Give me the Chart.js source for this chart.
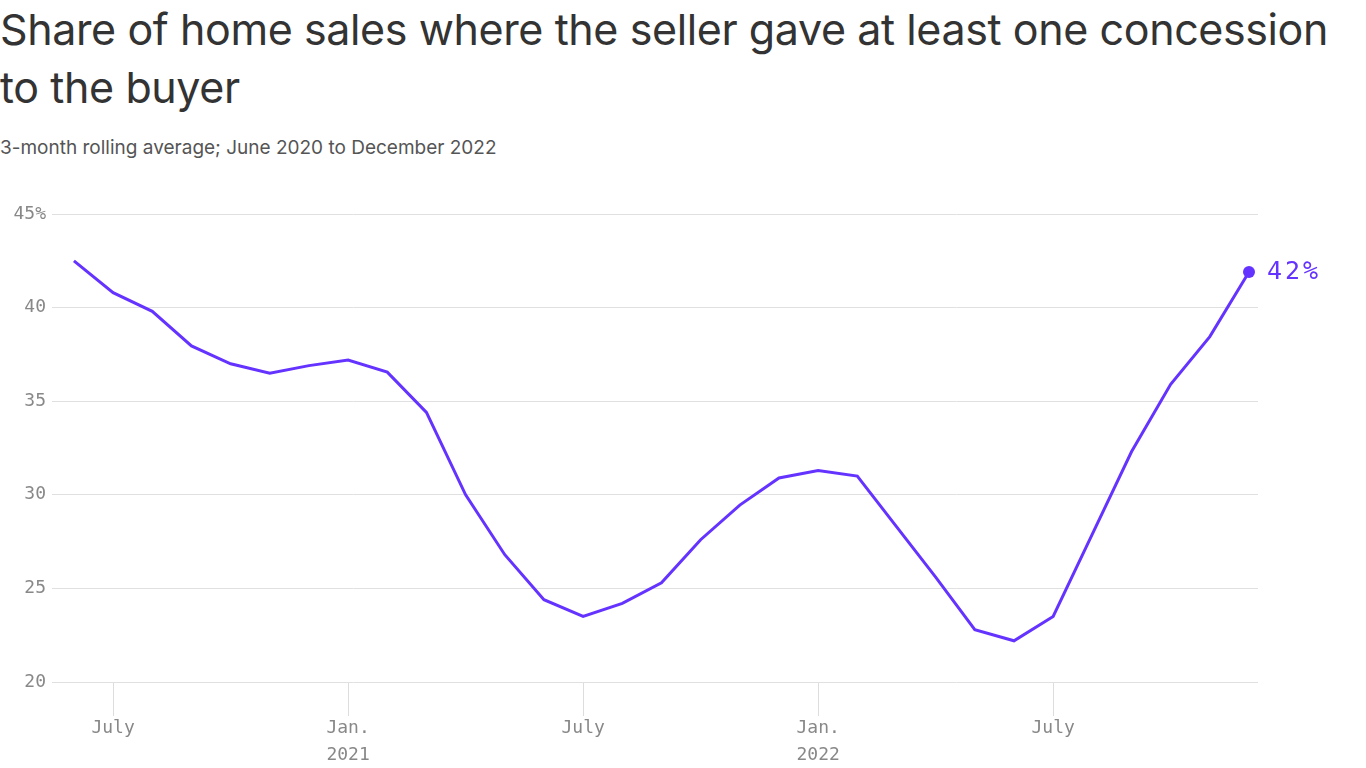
<!DOCTYPE html>
<html>
<head>
<meta charset="utf-8">
<script src="https://cdn.jsdelivr.net/npm/chart.js@4/dist/chart.umd.min.js"></script>
<style>
  html,body{margin:0;padding:0;background:#fff;overflow:hidden;}
  body{width:1366px;height:768px;position:relative;font-family:Inter,"Noto Sans",sans-serif;}
  #title{position:absolute;left:0;top:0;width:1366px;font-size:43px;line-height:58px;color:#333;letter-spacing:-0.4px;white-space:nowrap;}
  #sub{position:absolute;left:0;top:137px;font-size:19px;line-height:22px;color:#555;}
  #wrap{position:absolute;left:0;top:190px;width:1366px;height:578px;}
</style>
</head>
<body>
<div id="title">Share of home sales where the seller gave at least one concession<br>to the buyer</div>
<div id="sub">3-month rolling average; June 2020 to December 2022</div>
<div id="wrap"><canvas id="lineChart"></canvas></div>
<script>
// monthly data, June 2020 .. December 2022
const months = ['Jun 2020','Jul 2020','Aug 2020','Sep 2020','Oct 2020','Nov 2020','Dec 2020',
  'Jan 2021','Feb 2021','Mar 2021','Apr 2021','May 2021','Jun 2021','Jul 2021','Aug 2021','Sep 2021','Oct 2021','Nov 2021','Dec 2021',
  'Jan 2022','Feb 2022','Mar 2022','Apr 2022','May 2022','Jun 2022','Jul 2022','Aug 2022','Sep 2022','Oct 2022','Nov 2022','Dec 2022'];
const share = [42.5,40.8,39.8,37.95,37.0,36.5,36.9,
  37.2,36.55,34.4,30.0,26.8,24.4,23.5,24.2,25.3,27.6,29.45,30.9,
  31.3,31.0,28.3,25.6,22.8,22.2,23.5,27.9,32.3,35.9,38.45,41.9];

// x tick positions (index into months) and their labels
const xTickIdx = [1,7,13,19,25];
const xTickText = [['July'],['Jan.','2021'],['July'],['Jan.','2022'],['July']];
const yTicks = [20,25,30,35,40,45];

const purple = '#6533ff';
const mono = '"DejaVu Sans Mono", monospace';

const lastLabel = {
  id:'lastLabel',
  afterDatasetsDraw(c){
    const meta = c.getDatasetMeta(0);
    const pt = meta.data[meta.data.length-1];
    const ctx = c.ctx;
    ctx.save();
    ctx.fillStyle = purple;
    ctx.font = '25px ' + mono;
    ctx.letterSpacing = '3px';
    ctx.textBaseline = 'middle';
    ctx.textAlign = 'left';
    ctx.fillText(Math.round(share[share.length-1]) + '%', pt.x + 18, pt.y);
    ctx.restore();
  }
};

const ctx = document.getElementById('lineChart').getContext('2d');
const chart = new Chart(ctx, {
  type:'line',
  data:{
    datasets:[{
      label:'Share',
      data: share.map((v,i)=>({x:i, y:v})),
      borderColor: purple,
      backgroundColor: purple,
      borderWidth: 3,
      fill:false,
      tension:0,
      pointRadius: c => c.dataIndex === share.length-1 ? 6 : 0,
      pointHoverRadius: 0,
      pointBorderWidth: 0
    }]
  },
  options:{
    responsive:true,
    maintainAspectRatio:false,
    animation:false,
    layout:{padding:{top:24,right:108,left:0,bottom:0}},
    plugins:{legend:{display:false},tooltip:{enabled:false}},
    scales:{
      x:{
        type:'linear',
        min:-0.56, max:30.23,
        afterBuildTicks: s => { s.ticks = xTickIdx.map(v=>({value:v})); },
        afterFit: s => { s.height = 86; },
        border:{display:false},
        grid:{drawOnChartArea:false, drawTicks:true, tickLength:34, color:'#ddd', tickColor:'#ddd'},
        ticks:{
          padding:-1,
          color:'#888',
          font:{family:mono, size:18, lineHeight:1.5},
          maxRotation:0,
          autoSkip:false,
          callback: v => xTickText[xTickIdx.indexOf(v)]
        }
      },
      y:{
        min:20, max:45,
        afterBuildTicks: s => { s.ticks = yTicks.map(v=>({value:v})); },
        afterFit: s => { s.width = 52; },
        border:{display:false},
        grid:{color:'#e0e0e0', drawTicks:false},
        ticks:{
          padding:6,
          color:'#888',
          font:{family:mono, size:18},
          callback: v => v === 45 ? v + '%' : v
        }
      }
    }
  },
  plugins:[lastLabel]
});
</script>
</body>
</html>
